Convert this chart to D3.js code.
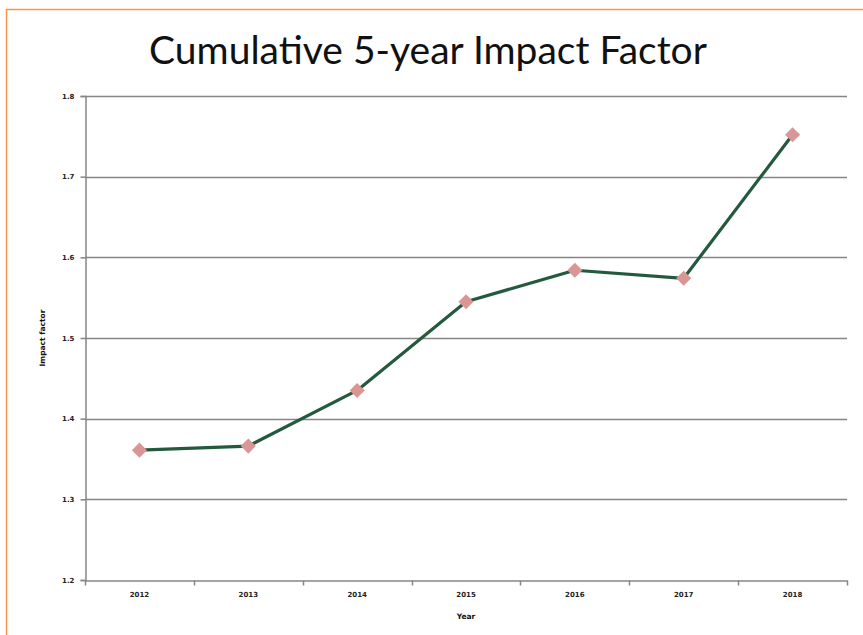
<!DOCTYPE html>
<html>
<head>
<meta charset="utf-8">
<script src="https://cdn.jsdelivr.net/npm/d3@7"></script>
<style>
html,body{margin:0;padding:0;background:#fff;}
svg{display:block;}
</style>
</head>
<body>
<svg id="chart" width="863" height="635"></svg>
<script>
const years = ["2012","2013","2014","2015","2016","2017","2018"];
const impactValues = [1.361, 1.366, 1.435, 1.545, 1.584, 1.574, 1.752];
const yTicks = [1.2, 1.3, 1.4, 1.5, 1.6, 1.7, 1.8];
const titleText = "Cumulative 5-year Impact Factor";
const xTitle = "Year";
const yTitle = "Impact factor";

const svg = d3.select("#chart");
const W = 863, H = 635;
const m = {left: 85, right: 16, top: 96, bottom: 55};

// orange frame
svg.append("rect").attr("x", 6.5).attr("y", 9.5).attr("width", W + 20).attr("height", H + 20)
  .attr("fill", "none").attr("stroke", "#f79646").attr("stroke-width", 1.5);

const x = d3.scaleBand().domain(years).range([m.left, W - m.right]).paddingInner(0).paddingOuter(0);
const y = d3.scaleLinear().domain([1.2, 1.8]).range([H - m.bottom, m.top]);

// gridlines
svg.append("g").selectAll("line").data(yTicks.slice(1)).join("line")
  .attr("x1", m.left).attr("x2", W - m.right)
  .attr("y1", d => Math.round(y(d)) + 0.5).attr("y2", d => Math.round(y(d)) + 0.5)
  .attr("stroke", "#858585").attr("stroke-width", 1.4);

// y axis
const yAxis = d3.axisLeft(y).tickValues(yTicks).tickSize(5).tickPadding(6).tickFormat(d3.format(".1f"));
const gy = svg.append("g").attr("transform", `translate(${m.left + 0.5},0)`).call(yAxis);
gy.select(".domain").attr("stroke", "#868686").attr("stroke-width", 1.5);
gy.selectAll(".tick line").attr("stroke", "#868686").attr("stroke-width", 1.5);
gy.selectAll(".tick text").attr("font-family", "DejaVu Sans, sans-serif").attr("font-size", 7)
  .attr("font-weight", "bold").attr("fill", "#222");

// x axis
const xAxis = d3.axisBottom(x).tickSize(0).tickPadding(12);
const gx = svg.append("g").attr("transform", `translate(0,${Math.round(y(1.2)) + 0.5})`).call(xAxis);
gx.select(".domain").attr("stroke", "#868686").attr("stroke-width", 1.5);
gx.selectAll(".tick text").attr("font-family", "DejaVu Sans, sans-serif").attr("font-size", 7)
  .attr("font-weight", "bold").attr("fill", "#222");
// category boundary ticks
const bounds = years.map(d => x(d)).concat([x(years[years.length - 1]) + x.bandwidth()]);
gx.append("g").selectAll("line").data(bounds).join("line")
  .attr("x1", d => Math.round(d) + 0.5).attr("x2", d => Math.round(d) + 0.5)
  .attr("y1", 0).attr("y2", 5).attr("stroke", "#868686").attr("stroke-width", 1.5);

// line
const cx = d => x(d) + x.bandwidth() / 2;
const line = d3.line().x((d, i) => cx(years[i])).y(d => y(d));
svg.append("path").datum(impactValues).attr("d", line)
  .attr("fill", "none").attr("stroke", "#235a3e").attr("stroke-width", 3.2).attr("stroke-linejoin", "round");

// markers
const sym = d3.symbol().type(d3.symbolDiamond2).size(145);
svg.append("g").selectAll("path").data(impactValues).join("path")
  .attr("d", sym)
  .attr("transform", (d, i) => `translate(${cx(years[i])},${y(d)})`)
  .attr("fill", "#d99694");

// title
svg.append("text").attr("x", 428).attr("y", 64).attr("text-anchor", "middle")
  .attr("font-family", "Lato, 'Open Sans', sans-serif").attr("font-size", 39).attr("fill", "#111")
  .text(titleText);

// axis titles
svg.append("text").attr("x", (m.left + W - m.right) / 2).attr("y", 619).attr("text-anchor", "middle")
  .attr("font-family", "DejaVu Sans, sans-serif").attr("font-size", 7.5).attr("font-weight", "bold").attr("fill", "#111")
  .text(xTitle);
svg.append("text").attr("transform", "translate(45,338) rotate(-90)").attr("text-anchor", "middle")
  .attr("font-family", "DejaVu Sans, sans-serif").attr("font-size", 7.5).attr("font-weight", "bold").attr("fill", "#111")
  .text(yTitle);
</script>
</body>
</html>
